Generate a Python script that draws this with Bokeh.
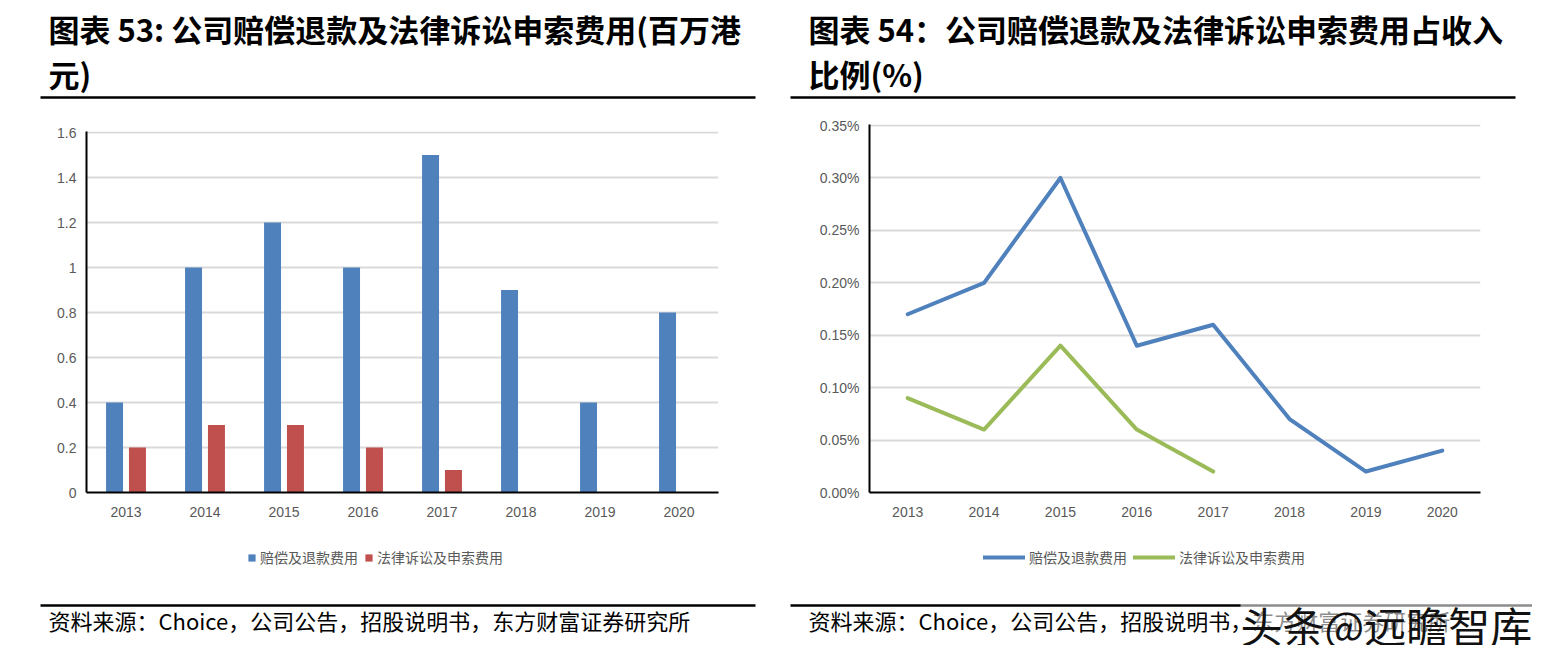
from bokeh.plotting import figure
from bokeh.layouts import row, column
from bokeh.models import (FactorRange, Range1d, FixedTicker, Legend, LegendItem, ColumnDataSource,
                          CustomJSTickFormatter)
from bokeh.transform import dodge
from bokeh.core.properties import value
from bokeh.embed import file_html
from bokeh.resources import INLINE

# ---------------- data ----------------
years = ["2013", "2014", "2015", "2016", "2017", "2018", "2019", "2020"]
refund_cost = [0.4, 1.0, 1.2, 1.0, 1.5, 0.9, 0.4, 0.8]          # 赔偿及退款费用 (百万港元)
legal_years = ["2013", "2014", "2015", "2016", "2017"]
legal_cost = [0.2, 0.3, 0.3, 0.2, 0.1]                            # 法律诉讼及申索费用 (百万港元)

refund_pct = [0.17, 0.20, 0.30, 0.14, 0.16, 0.07, 0.02, 0.04]      # 占收入比例 (%)
legal_pct = [0.09, 0.06, 0.14, 0.06, 0.02]

left_ticks = [0, 0.2, 0.4, 0.6, 0.8, 1.0, 1.2, 1.4, 1.6]
left_tick_labels = ["0", "0.2", "0.4", "0.6", "0.8", "1", "1.2", "1.4", "1.6"]
right_ticks = [0, 0.05, 0.10, 0.15, 0.20, 0.25, 0.30, 0.35]
right_tick_labels = ["0.00%", "0.05%", "0.10%", "0.15%", "0.20%", "0.25%", "0.30%", "0.35%"]

title_left = ["图表 53: 公司赔偿退款及法律诉讼申索费用(百万港", "元)"]
title_right = ["图表 54：公司赔偿退款及法律诉讼申索费用占收入", "比例(%)"]
series_names = ["赔偿及退款费用", "法律诉讼及申索费用"]
source_text = "资料来源：Choice，公司公告，招股说明书，东方财富证券研究所"
watermark = "头条@远瞻智库"

BLUE = "#4f81bd"
RED = "#c0504d"
GREEN = "#9bbb59"
GRID = "#d9d9d9"
LABEL = "#595959"
CJK = "Noto Sans CJK SC"

TITLE_H = 100
CHART_H = 440
FOOT_H = 105
LEFT_W = 778
RIGHT_W = 754


def text_fig(w, h):
    p = figure(width=w, height=h, x_range=Range1d(0, w), y_range=Range1d(0, h),
               output_backend="svg", toolbar_location=None, min_border=0,
               x_axis_location=None, y_axis_location=None, frame_align=False)
    p.grid.visible = False
    p.outline_line_color = None
    return p


def title_fig(w, x0, lines, r0, r1):
    p = text_fig(w, TITLE_H)
    p.text(x=[x0, x0], y=[72, 27], text=lines, text_font=value(CJK),
           text_font_size="31px", text_font_style="bold", text_color="#000000",
           text_baseline="middle", text_align="left")
    p.segment(x0=[r0], y0=[3], x1=[r1], y1=[3], line_color="#000000", line_width=2.5)
    return p


def foot_fig(w, x0, r0, r1, legend_series, legend_x, wm=False):
    """Footer: legend (proxy renderers hold the series data but stay hidden), rule, source note."""
    p = text_fig(w, FOOT_H)
    p.segment(x0=[r0], y0=[40], x1=[r1], y1=[40], line_color="#000000", line_width=2.5)
    p.text(x=[x0], y=[26], text=[source_text], text_font=value(CJK),
           text_font_size="22px", text_color="#000000",
           text_baseline="middle", text_align="left")
    if wm:
        p.text(x=[462], y=[21], text=[watermark], text_font=value(CJK),
               text_font_size="42px", text_color="#111111",
               text_baseline="middle", text_align="left",
               background_fill_color="#ffffff", background_fill_alpha=0.55)
    items = []
    for kind, color, name, vals in legend_series:
        idx = list(range(len(vals)))
        if kind == "bar":
            r = p.vbar(x=idx, top=vals, width=0.2, fill_color=color, line_color=None, visible=False)
        else:
            r = p.line(x=idx, y=vals, line_color=color, line_width=4, line_cap="round", visible=False)
        items.append(LegendItem(label=name, renderers=[r]))
    gw, gh = (9, 9) if legend_series[0][0] == "bar" else (42, 12)
    leg = Legend(items=items, orientation="horizontal", location=(legend_x, 78),
                 border_line_color=None, background_fill_alpha=0,
                 label_text_font=CJK, label_text_font_size="14px", label_text_color=LABEL,
                 glyph_width=gw, glyph_height=gh, label_standoff=4, spacing=6,
                 padding=0, margin=0, inactive_fill_alpha=0)
    p.add_layout(leg, "center")
    return p


def style_chart(p, ticks, labels):
    p.outline_line_color = None
    p.xgrid.grid_line_color = None
    p.ygrid.grid_line_color = GRID
    p.ygrid.grid_line_width = 2
    p.yaxis.ticker = FixedTicker(ticks=ticks)
    p.yaxis.formatter = CustomJSTickFormatter(args=dict(labels=labels), code="return labels[index]")
    for ax in (p.xaxis[0], p.yaxis[0]):
        ax.axis_line_color = "#000000"
        ax.axis_line_width = 2
        ax.major_tick_line_color = None
        ax.minor_tick_line_color = None
        ax.major_tick_out = 0
        ax.major_tick_in = 0
        ax.minor_tick_out = 0
        ax.major_label_text_color = LABEL
        ax.major_label_text_font = "Liberation Sans"
        ax.major_label_text_font_size = "14px"
    p.yaxis.major_label_standoff = 10
    p.xaxis.major_label_standoff = 14


# ---------------- left chart ----------------
pl = figure(width=LEFT_W, height=CHART_H, x_range=FactorRange(*years), y_range=Range1d(0, 1.6045),
            output_backend="svg", toolbar_location=None, frame_align=False,
            min_border_left=86, min_border_right=60, min_border_top=31, min_border_bottom=48)
style_chart(pl, left_ticks, left_tick_labels)
src_a = ColumnDataSource(dict(x=years, y=refund_cost))
src_b = ColumnDataSource(dict(x=legal_years, y=legal_cost))
pl.vbar(x=dodge("x", -0.145, range=pl.x_range), top="y", width=0.215, source=src_a,
        fill_color=BLUE, line_color=None)
pl.vbar(x=dodge("x", 0.145, range=pl.x_range), top="y", width=0.215, source=src_b,
        fill_color=RED, line_color=None)

# ---------------- right chart ----------------
pr = figure(width=RIGHT_W, height=CHART_H, x_range=FactorRange(*years), y_range=Range1d(0, 0.351),
            output_backend="svg", toolbar_location=None, frame_align=False,
            min_border_left=91, min_border_right=52, min_border_top=24, min_border_bottom=48)
style_chart(pr, right_ticks, right_tick_labels)
pr.line(x=years, y=refund_pct, line_color=BLUE, line_width=4, line_cap="round", line_join="round")
pr.line(x=legal_years, y=legal_pct, line_color=GREEN, line_width=4, line_cap="round", line_join="round")

left_col = column(title_fig(LEFT_W, 48, title_left, 40, 755), pl,
                  foot_fig(LEFT_W, 48, 40, 755,
                           [("bar", BLUE, series_names[0], refund_cost),
                            ("bar", RED, series_names[1], legal_cost)], 247))
right_col = column(title_fig(RIGHT_W, 30, title_right, 12, 737), pr,
                   foot_fig(RIGHT_W, 30, 12, 754,
                            [("line", BLUE, series_names[0], refund_pct),
                             ("line", GREEN, series_names[1], legal_pct)], 205, wm=True))
layout = row(left_col, right_col)

open("out.html", "w").write(file_html(layout, INLINE))
